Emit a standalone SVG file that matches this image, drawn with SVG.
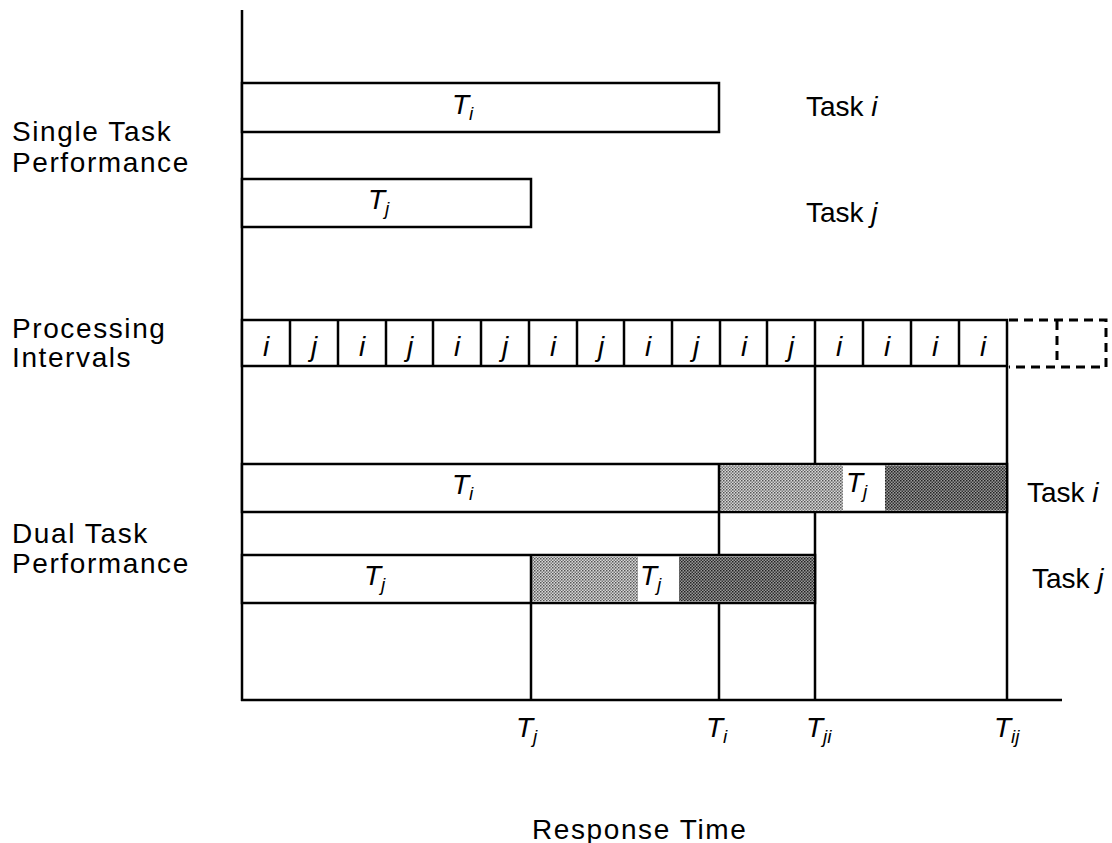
<svg xmlns="http://www.w3.org/2000/svg" width="1112" height="843" viewBox="0 0 1112 843">
<style>
.lbl{font-family:"Liberation Sans",Arial,sans-serif;font-size:28px;fill:#000}
.sp{letter-spacing:1.6px}
.it{font-family:"Liberation Sans",Arial,sans-serif;font-style:italic;font-size:28px;fill:#000}
.sub{font-size:19px}
.cell{font-family:"Liberation Sans",Arial,sans-serif;font-style:italic;font-size:28px;fill:#000}
.ln{stroke:#000;stroke-width:2.5;fill:none}
.bar{stroke:#000;stroke-width:2.5;fill:#fff}
.dash{stroke:#000;stroke-width:3;fill:none;stroke-dasharray:9,6}
</style>
<defs>
<pattern id="lt" width="3" height="3" patternUnits="userSpaceOnUse">
<rect width="3" height="3" fill="#d8d8d8"/>
<rect width="1.5" height="1.5" fill="#555"/>
<rect x="1.5" y="1.5" width="1.5" height="1.5" fill="#777"/>
</pattern>
<pattern id="dk" width="3" height="3" patternUnits="userSpaceOnUse">
<rect width="3" height="3" fill="#999"/>
<rect width="1.5" height="1.5" fill="#222"/>
<rect x="1.5" y="1.5" width="1.5" height="1.5" fill="#333"/>
</pattern>
</defs>
<rect width="1112" height="843" fill="#fff"/>

<g id="connectors">
<line class="ln" x1="242" y1="10" x2="242" y2="701"/>
<line class="ln" x1="241" y1="700" x2="1062" y2="700"/>
<line class="ln" x1="815" y1="366" x2="815" y2="700"/>
<line class="ln" x1="1007" y1="366" x2="1007" y2="700"/>
<line class="ln" x1="719" y1="464" x2="719" y2="700"/>
<line class="ln" x1="531" y1="555" x2="531" y2="700"/>
</g>

<g id="single-ti">
<rect class="bar" x="242" y="83" width="477" height="49"/>
<text class="it" x="452" y="114">T<tspan class="sub" dy="6">i</tspan></text>
</g>
<g id="single-tj">
<rect class="bar" x="242" y="179" width="289" height="48"/>
<text class="it" x="368" y="209">T<tspan class="sub" dy="6">j</tspan></text>
</g>

<g id="intervals">
<rect class="bar" x="242" y="320" width="765" height="46"/>
<g class="ln">
<line x1="290" y1="320" x2="290" y2="366"/>
<line x1="338" y1="320" x2="338" y2="366"/>
<line x1="386" y1="320" x2="386" y2="366"/>
<line x1="433" y1="320" x2="433" y2="366"/>
<line x1="481" y1="320" x2="481" y2="366"/>
<line x1="529" y1="320" x2="529" y2="366"/>
<line x1="577" y1="320" x2="577" y2="366"/>
<line x1="624" y1="320" x2="624" y2="366"/>
<line x1="672" y1="320" x2="672" y2="366"/>
<line x1="720" y1="320" x2="720" y2="366"/>
<line x1="767" y1="320" x2="767" y2="366"/>
<line x1="815" y1="320" x2="815" y2="366"/>
<line x1="863" y1="320" x2="863" y2="366"/>
<line x1="911" y1="320" x2="911" y2="366"/>
<line x1="959" y1="320" x2="959" y2="366"/>
</g>
<g class="cell" text-anchor="middle">
<text x="266" y="356">i</text>
<text x="314" y="356">j</text>
<text x="362" y="356">i</text>
<text x="410" y="356">j</text>
<text x="457" y="356">i</text>
<text x="505" y="356">j</text>
<text x="553" y="356">i</text>
<text x="601" y="356">j</text>
<text x="648" y="356">i</text>
<text x="696" y="356">j</text>
<text x="744" y="356">i</text>
<text x="791" y="356">j</text>
<text x="839" y="356">i</text>
<text x="887" y="356">i</text>
<text x="935" y="356">i</text>
<text x="983" y="356">i</text>
</g>
<path class="dash" d="M1009 320 H1106 V367 H1009 M1057 321 V366"/>
</g>

<g id="dual-i">
<rect class="bar" x="242" y="464" width="765" height="48"/>
<rect x="720" y="465.5" width="123" height="45" fill="url(#lt)"/>
<rect x="885" y="465.5" width="121" height="45" fill="url(#dk)"/>
<line class="ln" x1="719" y1="464" x2="719" y2="512"/>
<text class="it" x="452" y="494">T<tspan class="sub" dy="6">i</tspan></text>
<text class="it" x="846" y="492">T<tspan class="sub" dy="6">j</tspan></text>
</g>

<g id="dual-j">
<rect class="bar" x="242" y="555" width="573" height="48"/>
<rect x="532" y="556.5" width="106" height="45" fill="url(#lt)"/>
<rect x="679" y="556.5" width="135" height="45" fill="url(#dk)"/>
<line class="ln" x1="531" y1="555" x2="531" y2="603"/>
<text class="it" x="364" y="585">T<tspan class="sub" dy="6">j</tspan></text>
<text class="it" x="640" y="585">T<tspan class="sub" dy="6">j</tspan></text>
</g>

<g id="labels" class="lbl">
<text class="sp" x="12" y="141">Single Task</text>
<text class="sp" x="12" y="172">Performance</text>
<text class="sp" x="12" y="338">Processing</text>
<text class="sp" x="12" y="367">Intervals</text>
<text class="sp" x="12" y="543">Dual Task</text>
<text class="sp" x="12" y="573">Performance</text>
<text x="806" y="116">Task <tspan font-style="italic">i</tspan></text>
<text x="806" y="222">Task <tspan font-style="italic">j</tspan></text>
<text x="1027" y="502">Task <tspan font-style="italic">i</tspan></text>
<text x="1032" y="588">Task <tspan font-style="italic">j</tspan></text>
<text class="sp" x="532" y="839">Response Time</text>
</g>

<g id="axis-labels" class="it">
<text x="516" y="737">T<tspan class="sub" dy="6">j</tspan></text>
<text x="706" y="737">T<tspan class="sub" dy="6">i</tspan></text>
<text x="806" y="737">T<tspan class="sub" dy="6">ji</tspan></text>
<text x="994" y="737">T<tspan class="sub" dy="6">ij</tspan></text>
</g>
</svg>
